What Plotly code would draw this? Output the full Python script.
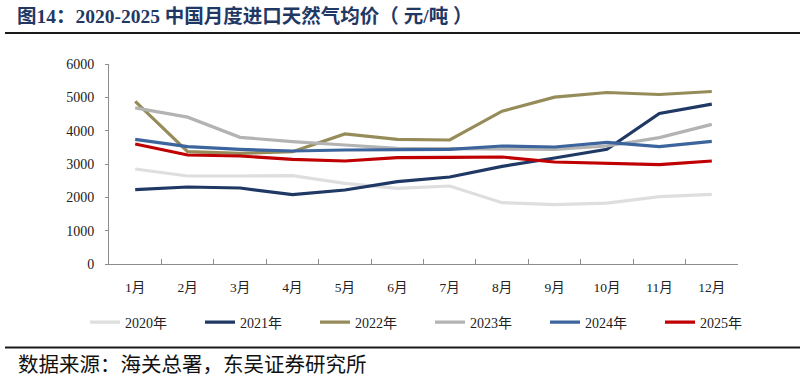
import plotly.graph_objects as go

months = ["1月", "2月", "3月", "4月", "5月", "6月", "7月", "8月", "9月", "10月", "11月", "12月"]
y2020 = [2850, 2640, 2640, 2650, 2420, 2270, 2340, 1840, 1780, 1825, 2020, 2090]
y2021 = [2230, 2310, 2280, 2080, 2220, 2470, 2610, 2930, 3180, 3440, 4515, 4795]
y2022 = [4880, 3370, 3320, 3370, 3900, 3740, 3720, 4585, 5005, 5145, 5085, 5175]
y2023 = [4685, 4405, 3800, 3670, 3570, 3470, 3460, 3450, 3440, 3540, 3790, 4190]
y2024 = [3740, 3520, 3440, 3390, 3420, 3420, 3440, 3540, 3510, 3650, 3520, 3680]
y2025 = [3600, 3270, 3240, 3140, 3090, 3190, 3200, 3210, 3060, 3030, 2980, 3090]

series = [
    ("2020年", y2020, "#dedede"),
    ("2021年", y2021, "#1f3864"),
    ("2022年", y2022, "#968c5a"),
    ("2023年", y2023, "#b3b3b3"),
    ("2024年", y2024, "#3d659d"),
    ("2025年", y2025, "#c00000"),
]

SERIF = "Liberation Serif, Times New Roman, Noto Sans CJK SC, serif"

fig = go.Figure()
for name, ys, col in series:
    fig.add_trace(go.Scatter(x=months, y=ys, name=name, mode="lines",
                             line=dict(color=col, width=3.2)))

W, H = 805, 381
L, R, T, B = 109, 738, 64, 264
pw, ph = R - L, B - T

def px(x):
    return (x - L) / pw

def py(y):
    return (B - y) / ph

fig.update_layout(
    width=W, height=H,
    margin=dict(l=L, r=W - R, t=T, b=H - B, autoexpand=False),
    plot_bgcolor="white", paper_bgcolor="white",
    font=dict(family=SERIF, size=14, color="#222"),
    showlegend=True,
    legend=dict(orientation="h", x=px(85), xanchor="left", y=py(322.5), yanchor="middle",
                font=dict(size=14, family=SERIF), entrywidth=70, entrywidthmode="pixels",
                itemwidth=30, bgcolor="rgba(0,0,0,0)"),
    xaxis=dict(showline=True, linecolor="#8c8c8c", linewidth=1, ticks="inside",
               tickson="boundaries", ticklen=5, tickcolor="#8c8c8c",
               range=[-0.5, 11.5],
               showgrid=False, zeroline=False, ticklabelstandoff=11,
               tickfont=dict(size=13.5, family=SERIF)),
    yaxis=dict(range=[0, 6000], dtick=1000, showline=True, linecolor="#8c8c8c", linewidth=1,
               ticks="outside", ticklen=3, tickcolor="#8c8c8c", showgrid=False,
               zeroline=False, ticklabelstandoff=8, tickfont=dict(size=14, family=SERIF)),
    shapes=[
        dict(type="line", xref="paper", yref="paper", x0=px(5), x1=px(800), y0=py(33), y1=py(33),
             line=dict(color="#1a1a1a", width=2)),
        dict(type="line", xref="paper", yref="paper", x0=px(5), x1=px(800), y0=py(347.5), y1=py(347.5),
             line=dict(color="#1a1a1a", width=2)),
    ],
    annotations=[
        dict(text="<b>图14：2020-2025 中国月度进口天然气均价（ 元/吨 ）</b>", xref="paper", yref="paper",
             x=px(15), y=py(16), xanchor="left", yanchor="middle", showarrow=False,
             font=dict(size=19.5, color="#1f3864", family=SERIF)),
        dict(text="数据来源：海关总署，东吴证券研究所", xref="paper", yref="paper",
             x=px(16), y=py(365), xanchor="left", yanchor="middle", showarrow=False,
             font=dict(size=20.5, color="#111", family=SERIF)),
    ],
)

fig.write_html("out.html", config={"displayModeBar": False},
               post_script="document.body.style.margin='0';document.body.style.padding='0';")
